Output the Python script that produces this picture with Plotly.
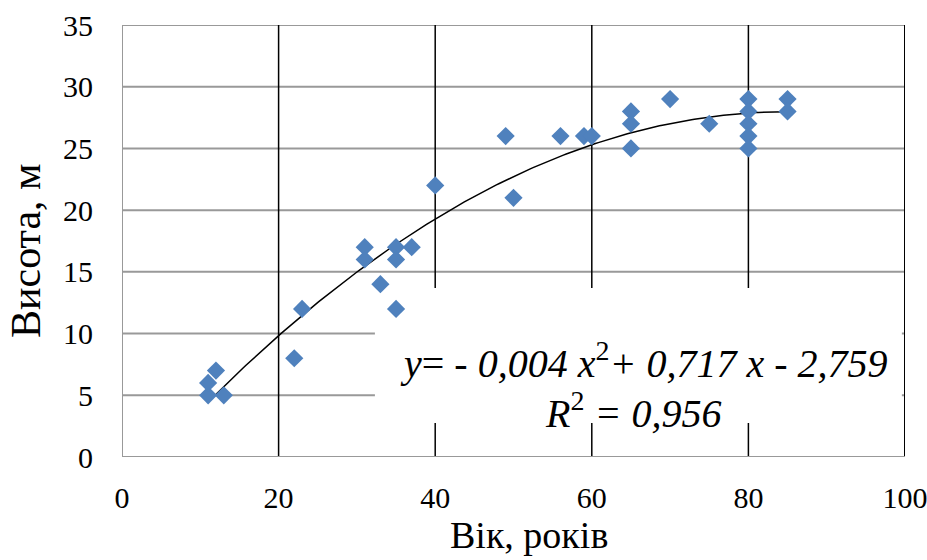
import numpy as np
import plotly.graph_objects as go

# ---- data ----
age = [11, 11, 12, 13, 22, 23, 31, 31, 33, 35, 35, 35, 37, 40, 49, 50,
       56, 59, 60, 65, 65, 65, 70, 75, 80, 80, 80, 80, 80, 85, 85]
height = [5, 6, 7, 5, 8, 12, 17, 16, 14, 12, 17, 16, 17, 22, 26, 21,
          26, 26, 26, 28, 27, 25, 29, 27, 29, 28, 27, 26, 25, 29, 28]
x_ticks = [0, 20, 40, 60, 80, 100]
y_ticks = [0, 5, 10, 15, 20, 25, 30, 35]
x_title = "Вік, років"
y_title = "Висота, м"
eq_line1 = "<i>y</i>= - <i>0,004 x</i><sup>2</sup><i>+ 0,717 x</i> - <i>2,759</i>"
eq_line2 = "<i>R</i><sup>2</sup><i> = 0,956</i>"

# quadratic trendline fitted to the data (as the spreadsheet does)
coef = np.polyfit(age, height, 2)
xs = np.linspace(min(age), max(age), 200)
ys = np.polyval(coef, xs)

FONT = "Liberation Serif"
fig = go.Figure()
fig.add_trace(go.Scatter(x=xs, y=ys, mode="lines",
                         line=dict(color="black", width=1.5),
                         hoverinfo="skip", showlegend=False))
fig.add_trace(go.Scatter(x=age, y=height, mode="markers",
                         marker=dict(symbol="diamond", size=14, color="#4F81BD",
                                     line=dict(width=0)),
                         showlegend=False))

shapes = []
# horizontal gray grid lines
for v in y_ticks:
    shapes.append(dict(type="line", xref="x", yref="y", x0=x_ticks[0], x1=x_ticks[-1],
                       y0=v, y1=v, line=dict(color="#999999", width=2), layer="below"))
# vertical black grid lines
for v in x_ticks[1:-1]:
    shapes.append(dict(type="line", xref="x", yref="y", x0=v, x1=v,
                       y0=y_ticks[0], y1=y_ticks[-1], line=dict(color="black", width=1.5),
                       layer="below"))
# white label box behind the equation
shapes.append(dict(type="rect", xref="x", yref="y", x0=32.3, x1=99.6, y0=2.75, y1=13.7,
                   fillcolor="white", line=dict(width=0), layer="below"))
# right border (black) and left/bottom borders (gray)
shapes.append(dict(type="line", xref="x", yref="y", x0=x_ticks[-1], x1=x_ticks[-1],
                   y0=y_ticks[0], y1=y_ticks[-1], line=dict(color="black", width=2), layer="below"))
shapes.append(dict(type="line", xref="x", yref="y", x0=x_ticks[0], x1=x_ticks[0],
                   y0=y_ticks[0], y1=y_ticks[-1], line=dict(color="#999999", width=2), layer="below"))
shapes.append(dict(type="line", xref="x", yref="y", x0=x_ticks[0], x1=x_ticks[-1],
                   y0=y_ticks[0], y1=y_ticks[0], line=dict(color="#999999", width=2), layer="below"))

PW, PH = 927 - 122 - 22, 560 - 25 - 103
annotations = [
    dict(text=eq_line1, xref="paper", yref="paper", x=(644 - 122) / PW, y=(457 - 360) / PH,
         showarrow=False, xanchor="center", yanchor="middle",
         font=dict(family=FONT, size=40, color="black")),
    dict(text=eq_line2, xref="paper", yref="paper", x=(633 - 122) / PW, y=(457 - 410) / PH,
         showarrow=False, xanchor="center", yanchor="middle",
         font=dict(family=FONT, size=40, color="black")),
    dict(text=x_title, xref="paper", yref="paper", x=(529 - 122) / PW, y=(457 - 535) / PH,
         showarrow=False, xanchor="center", yanchor="middle",
         font=dict(family=FONT, size=38, color="black")),
    dict(text=y_title, xref="paper", yref="paper", x=(26 - 122) / PW, y=(457 - 251) / PH,
         showarrow=False, xanchor="center", yanchor="middle", textangle=-90,
         font=dict(family=FONT, size=42, color="black")),
]

fig.update_layout(
    width=927, height=560,
    margin=dict(l=122, r=22, t=25, b=103, autoexpand=False),
    paper_bgcolor="white", plot_bgcolor="white",
    shapes=shapes, annotations=annotations,
    xaxis=dict(range=[x_ticks[0], x_ticks[-1]], tickvals=x_ticks, showgrid=False,
               zeroline=False, showline=False, ticks="outside", ticklen=14,
               tickcolor="rgba(0,0,0,0)", automargin=False, ticklabeloverflow="allow",
               tickfont=dict(family=FONT, size=30, color="black")),
    yaxis=dict(range=[y_ticks[0], y_ticks[-1]], tickvals=y_ticks, showgrid=False,
               zeroline=False, showline=False, ticks="outside", ticklen=22,
               tickcolor="rgba(0,0,0,0)", automargin=False, ticklabeloverflow="allow",
               tickfont=dict(family=FONT, size=30, color="black")),
)

fig.write_html("out.html")
